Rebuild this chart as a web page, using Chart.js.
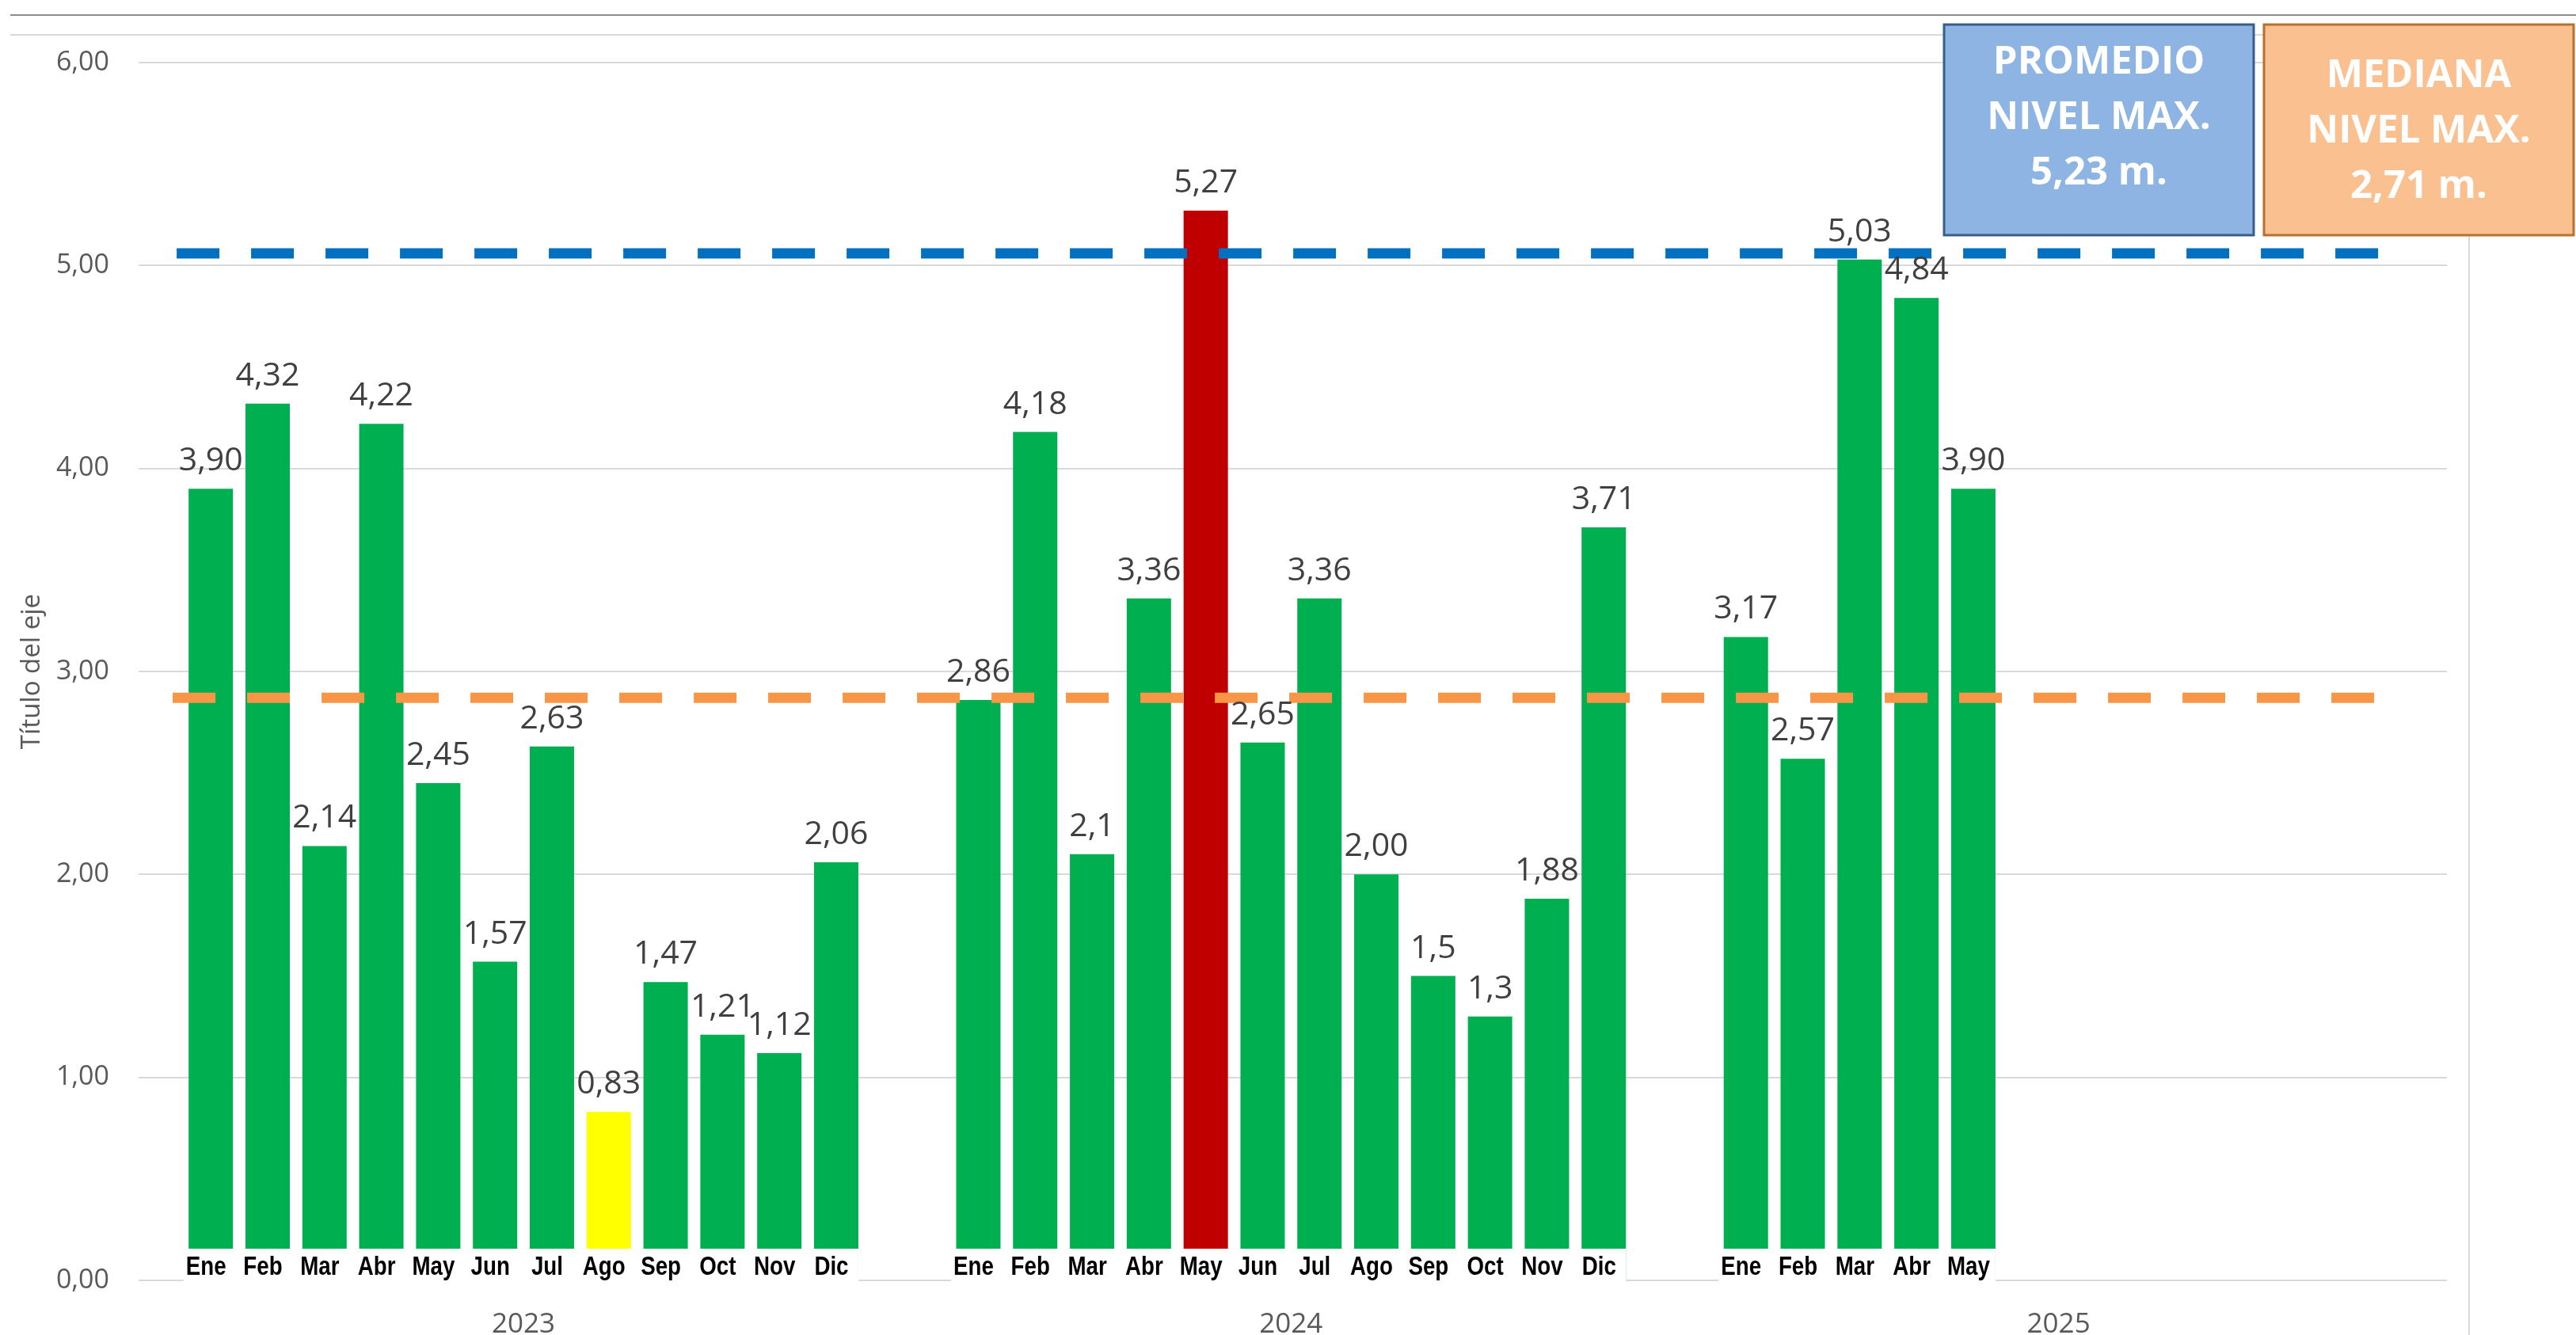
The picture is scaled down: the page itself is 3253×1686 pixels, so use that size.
<!DOCTYPE html>
<html>
<head>
<meta charset="utf-8">
<script src="https://cdn.jsdelivr.net/npm/chart.js@4.4.1/dist/chart.umd.min.js"></script>
<style>
    html, body { margin: 0; padding: 0; background: #fff; }
    #wrap { width: 3253px; height: 1686px; position: relative; }
</style>
</head>
<body>
<div id="wrap"><canvas id="nivelChart"></canvas></div>
<script>
// valores (nivel maximo mensual, m)
const years = ['2023', '2024', '2025'];
const months = ['Ene', 'Feb', 'Mar', 'Abr', 'May', 'Jun', 'Jul', 'Ago', 'Sep', 'Oct', 'Nov', 'Dic'];
const nivel2023 = ['3.90', '4.32', '2.14', '4.22', '2.45', '1.57', '2.63', '0.83', '1.47', '1.21', '1.12', '2.06'];
const nivel2024 = ['2.86', '4.18', '2.1', '3.36', '5.27', '2.65', '3.36', '2.00', '1.5', '1.3', '1.88', '3.71'];
const nivel2025 = ['3.17', '2.57', '5.03', '4.84', '3.90'];

// lineas de referencia tal como estan dibujadas
const promedioLinea = 5.06;
const medianaLinea = 2.87;
const promedioTexto = ['PROMEDIO', 'NIVEL MAX.', '5,23 m.'];
const medianaTexto = ['MEDIANA', 'NIVEL MAX.', '2,71 m.'];

const YEAR_STRIDE = 13.5;   // cada año ocupa 12 meses + hueco
const series = [nivel2023, nivel2024, nivel2025];

const points = [];
series.forEach((vals, yi) => {
    vals.forEach((v, mi) => {
        points.push({ x: yi * YEAR_STRIDE + mi, y: Number(v), raw: v, month: months[mi], year: yi });
    });
});

const allVals = points.map(p => p.y);
const maxVal = Math.max(...allVals);
const minVal = Math.min(...allVals);
const barColors = points.map(p => p.y === maxVal ? '#C00000' : (p.y === minVal ? '#FFFF00' : '#00B050'));

const lastSlot = (years.length - 1) * YEAR_STRIDE + 11;

const frameLines = {
    id: 'frameLines',
    beforeDraw(chart) {
        const ctx = chart.ctx;
        ctx.save();
        ctx.lineWidth = 2;
        ctx.strokeStyle = '#8C8C8C';
        ctx.beginPath();
        ctx.moveTo(13, 19);
        ctx.lineTo(chart.width, 19);
        ctx.stroke();
        ctx.strokeStyle = '#D9D9D9';
        ctx.beginPath();
        ctx.moveTo(13, 44);
        ctx.lineTo(3118, 44);
        ctx.lineTo(3118, chart.height);
        ctx.stroke();
        ctx.restore();
    }
};

const NARROW = 0.84;   // imita Arial Narrow

const barLabels = {
    id: 'barLabels',
    afterDatasetsDraw(chart) {
        const ctx = chart.ctx;
        const meta = chart.getDatasetMeta(0);
        const zeroY = chart.scales.y.getPixelForValue(0);
        ctx.save();

        // valores encima de cada barra
        ctx.font = '41px "Open Sans"';
        ctx.fillStyle = '#404040';
        ctx.textAlign = 'center';
        ctx.textBaseline = 'alphabetic';
        meta.data.forEach((bar, i) => {
            ctx.fillText(points[i].raw.replace('.', ','), bar.x, bar.y - 23);
        });

        // meses dentro del area, sobre fondo blanco
        ctx.font = 'bold 33px "Liberation Sans", Arial, sans-serif';
        years.forEach((yr, yi) => {
            const idx = points.map((p, i) => p.year === yi ? i : -1).filter(i => i >= 0);
            let left = Infinity, right = -Infinity;
            idx.forEach(i => {
                const bar = meta.data[i];
                const w = ctx.measureText(points[i].month).width * NARROW;
                left = Math.min(left, bar.x - bar.width / 2, bar.x - 6 - w / 2 - 3);
                right = Math.max(right, bar.x + bar.width / 2, bar.x - 6 + w / 2 + 3);
            });
            ctx.fillStyle = '#FFFFFF';
            ctx.fillRect(left, zeroY - 40, right - left, 47);
            ctx.fillStyle = '#000000';
            ctx.textBaseline = 'middle';
            idx.forEach(i => {
                ctx.save();
                ctx.translate(meta.data[i].x - 6, zeroY - 16);
                ctx.scale(NARROW, 1);
                ctx.fillText(points[i].month, 0, 0);
                ctx.restore();
            });
        });

        // cuadros de promedio y mediana
        const boxes = [
            { x: 2455, w: 391, fill: '#8DB4E2', stroke: '#385D8A', lines: promedioTexto, cy: 149 },
            { x: 2859, w: 391, fill: '#FAC090', stroke: '#B7702F', lines: medianaTexto, cy: 166 }
        ];
        boxes.forEach(b => {
            ctx.fillStyle = b.fill;
            ctx.fillRect(b.x, 31, b.w, 266);
            ctx.lineWidth = 3;
            ctx.strokeStyle = b.stroke;
            ctx.strokeRect(b.x, 31, b.w, 266);
            ctx.fillStyle = '#FFFFFF';
            ctx.font = 'bold 49px "Open Sans"';
            ctx.textAlign = 'center';
            ctx.textBaseline = 'middle';
            b.lines.forEach((t, li) => {
                ctx.fillText(t, b.x + b.w / 2, b.cy + (li - 1) * 70);
            });
        });
        ctx.restore();
    }
};

const ctx = document.getElementById('nivelChart');
new Chart(ctx, {
    data: {
        datasets: [
            {
                type: 'bar',
                data: points,
                backgroundColor: barColors,
                borderWidth: 0,
                categoryPercentage: 1,
                barPercentage: 0.78,
                order: 2
            },
            {
                type: 'line',
                data: [{ x: -0.6, y: promedioLinea }, { x: lastSlot + 0.3, y: promedioLinea }],
                borderColor: '#0070C0',
                borderWidth: 13,
                borderDash: [54, 40],
                borderCapStyle: 'butt',
                pointRadius: 0,
                order: 1
            },
            {
                type: 'line',
                data: [{ x: -0.67, y: medianaLinea }, { x: lastSlot + 0.2, y: medianaLinea }],
                borderColor: '#F79646',
                borderWidth: 13,
                borderDash: [54, 40],
                borderCapStyle: 'butt',
                pointRadius: 0,
                order: 1
            }
        ]
    },
    options: {
        responsive: true,
        maintainAspectRatio: false,
        devicePixelRatio: 1,
        animation: false,
        layout: { padding: { left: 0, top: 79, right: 163, bottom: 0 } },
        plugins: {
            legend: { display: false },
            tooltip: { enabled: false }
        },
        scales: {
            x: {
                type: 'linear',
                offset: false,
                min: -1.27,
                max: lastSlot + 1.33,
                grid: { display: false, drawTicks: false },
                border: { display: false },
                afterBuildTicks: (scale) => {
                    scale.ticks = years.map((y, i) => ({ value: i * YEAR_STRIDE + 5.5 }));
                },
                afterFit: (scale) => { scale.height = 69; },
                ticks: {
                    autoSkip: false,
                    maxRotation: 0,
                    padding: 35,
                    color: '#595959',
                    font: { family: 'Open Sans', size: 35 },
                    callback: (value, index) => years[index]
                }
            },
            y: {
                min: 0,
                max: 6,
                grid: { color: '#D9D9D9', lineWidth: 2, drawTicks: false },
                border: { display: false },
                afterFit: (scale) => { scale.width = 175; },
                ticks: {
                    stepSize: 1,
                    padding: 37,
                    color: '#595959',
                    font: { family: 'Open Sans', size: 34 },
                    callback: (v) => v.toFixed(2).replace('.', ',')
                },
                title: {
                    display: true,
                    text: 'Título del eje',
                    color: '#595959',
                    font: { family: 'Open Sans', size: 33 },
                    padding: { top: 21, bottom: 0 }
                }
            }
        }
    },
    plugins: [frameLines, barLabels]
});
</script>
</body>
</html>
